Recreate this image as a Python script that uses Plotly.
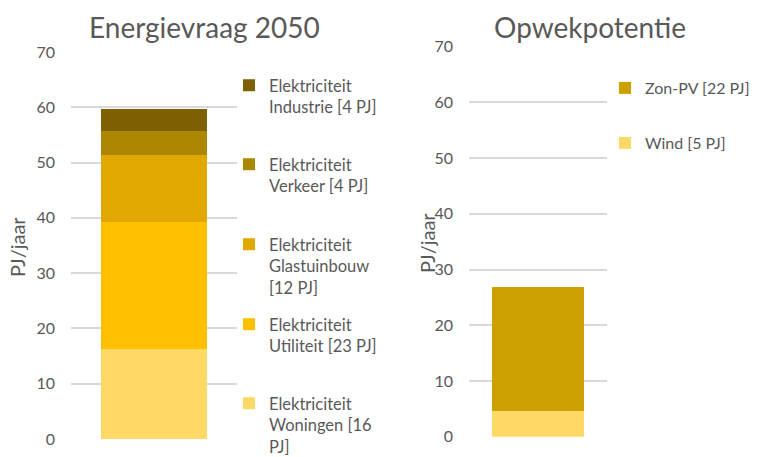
import plotly.graph_objects as go

# ---------------- data ----------------
demand_names = [
    "Elektriciteit<br>Woningen [16<br>PJ]",
    "Elektriciteit<br>Utiliteit [23 PJ]",
    "Elektriciteit<br>Glastuinbouw<br>[12 PJ]",
    "Elektriciteit<br>Verkeer [4 PJ]",
    "Elektriciteit<br>Industrie [4 PJ]",
]
demand_values = [16.3, 23.0, 12.1, 4.3, 4.0]
demand_colors = ["#ffd966", "#ffc000", "#e0a800", "#ad8700", "#7f6000"]

supply_names = ["Wind [5 PJ]", "Zon-PV [22 PJ]"]
supply_values = [4.7, 22.1]
supply_colors = ["#ffd966", "#cca000"]

title_left = "Energievraag 2050"
title_right = "Opwekpotentie"
y_title = "PJ/jaar"
y_ticks = [0, 10, 20, 30, 40, 50, 60, 70]

FONT = "Lato"
GREY = "#595959"
W, H = 760, 457

def py(p):
    return 1 - p / H

fig = go.Figure()

# legend first-line pixel positions (reference)
demand_leg_y = [403, 324, 244, 164, 85]
supply_leg_y = [143, 88]

legends = {}
for i, (n, v, c) in enumerate(zip(demand_names, demand_values, demand_colors)):
    lname = "legend" if i == 0 else f"legend{i+1}"
    fig.add_trace(go.Bar(x=["a"], y=[v], name=n, marker=dict(color=c, line=dict(width=0)),
                         width=0.64, xaxis="x", yaxis="y", legend=lname, hoverinfo="skip"))
    legends[lname] = dict(x=229 / W, y=py(demand_leg_y[i] - 17), xanchor="left", yanchor="top",
                          xref="container", yref="container",
                          valign="top", bgcolor="rgba(0,0,0,0)",
                          font=dict(family=FONT, size=16.5, color=GREY))

for j, (n, v, c) in enumerate(zip(supply_names, supply_values, supply_colors)):
    lname = f"legend{6+j}"
    fig.add_trace(go.Bar(x=["a"], y=[v], name=n, marker=dict(color=c, line=dict(width=0)),
                         width=0.66, xaxis="x2", yaxis="y2", legend=lname, hoverinfo="skip"))
    legends[lname] = dict(x=605 / W, y=py(supply_leg_y[j] - 17), xanchor="left", yanchor="top",
                          xref="container", yref="container",
                          valign="top", bgcolor="rgba(0,0,0,0)",
                          font=dict(family=FONT, size=16, color=GREY))

axis_common = dict(showgrid=True, gridcolor="#d9d9d9", gridwidth=1.5, zeroline=False,
                   tickvals=y_ticks, range=[0, 70], showline=False, ticks="", automargin=False,
                   ticklabelstandoff=15,
                   tickfont=dict(family=FONT, size=16, color=GREY))
xaxis_common = dict(showticklabels=False, showgrid=False, zeroline=False, range=[-0.5, 0.5],
                    showline=False, ticks="", automargin=False)

fig.update_layout(
    width=W, height=H,
    margin=dict(l=0, r=0, t=0, b=0, autoexpand=False),
    paper_bgcolor="white", plot_bgcolor="white",
    barmode="stack", showlegend=True,
    xaxis=dict(domain=[71 / W, 237 / W], **xaxis_common),
    yaxis=dict(domain=[py(439), py(52)], anchor="x", **axis_common),
    xaxis2=dict(domain=[469 / W, 607 / W], anchor="y2", **xaxis_common),
    yaxis2=dict(domain=[py(436.7), py(46.7)], anchor="x2", **axis_common),
    annotations=[
        dict(text=title_left, x=204 / W, y=py(27), xref="paper", yref="paper",
             xanchor="center", yanchor="middle",
             showarrow=False, font=dict(family=FONT, size=28, color=GREY)),
        dict(text=title_right, x=590 / W, y=py(27), xref="paper", yref="paper",
             xanchor="center", yanchor="middle",
             showarrow=False, font=dict(family=FONT, size=28, color=GREY)),
        dict(text=y_title, x=17 / W, y=py(247), xref="paper", yref="paper", textangle=-90,
             xanchor="center", yanchor="middle",
             showarrow=False, font=dict(family=FONT, size=20, color=GREY)),
        dict(text=y_title, x=427 / W, y=py(243), xref="paper", yref="paper", textangle=-90,
             xanchor="center", yanchor="middle",
             showarrow=False, font=dict(family=FONT, size=20, color=GREY)),
    ],
    **legends,
)

fig.write_html("out.html", config={"displayModeBar": False},
               post_script="document.body.style.margin='0';")
